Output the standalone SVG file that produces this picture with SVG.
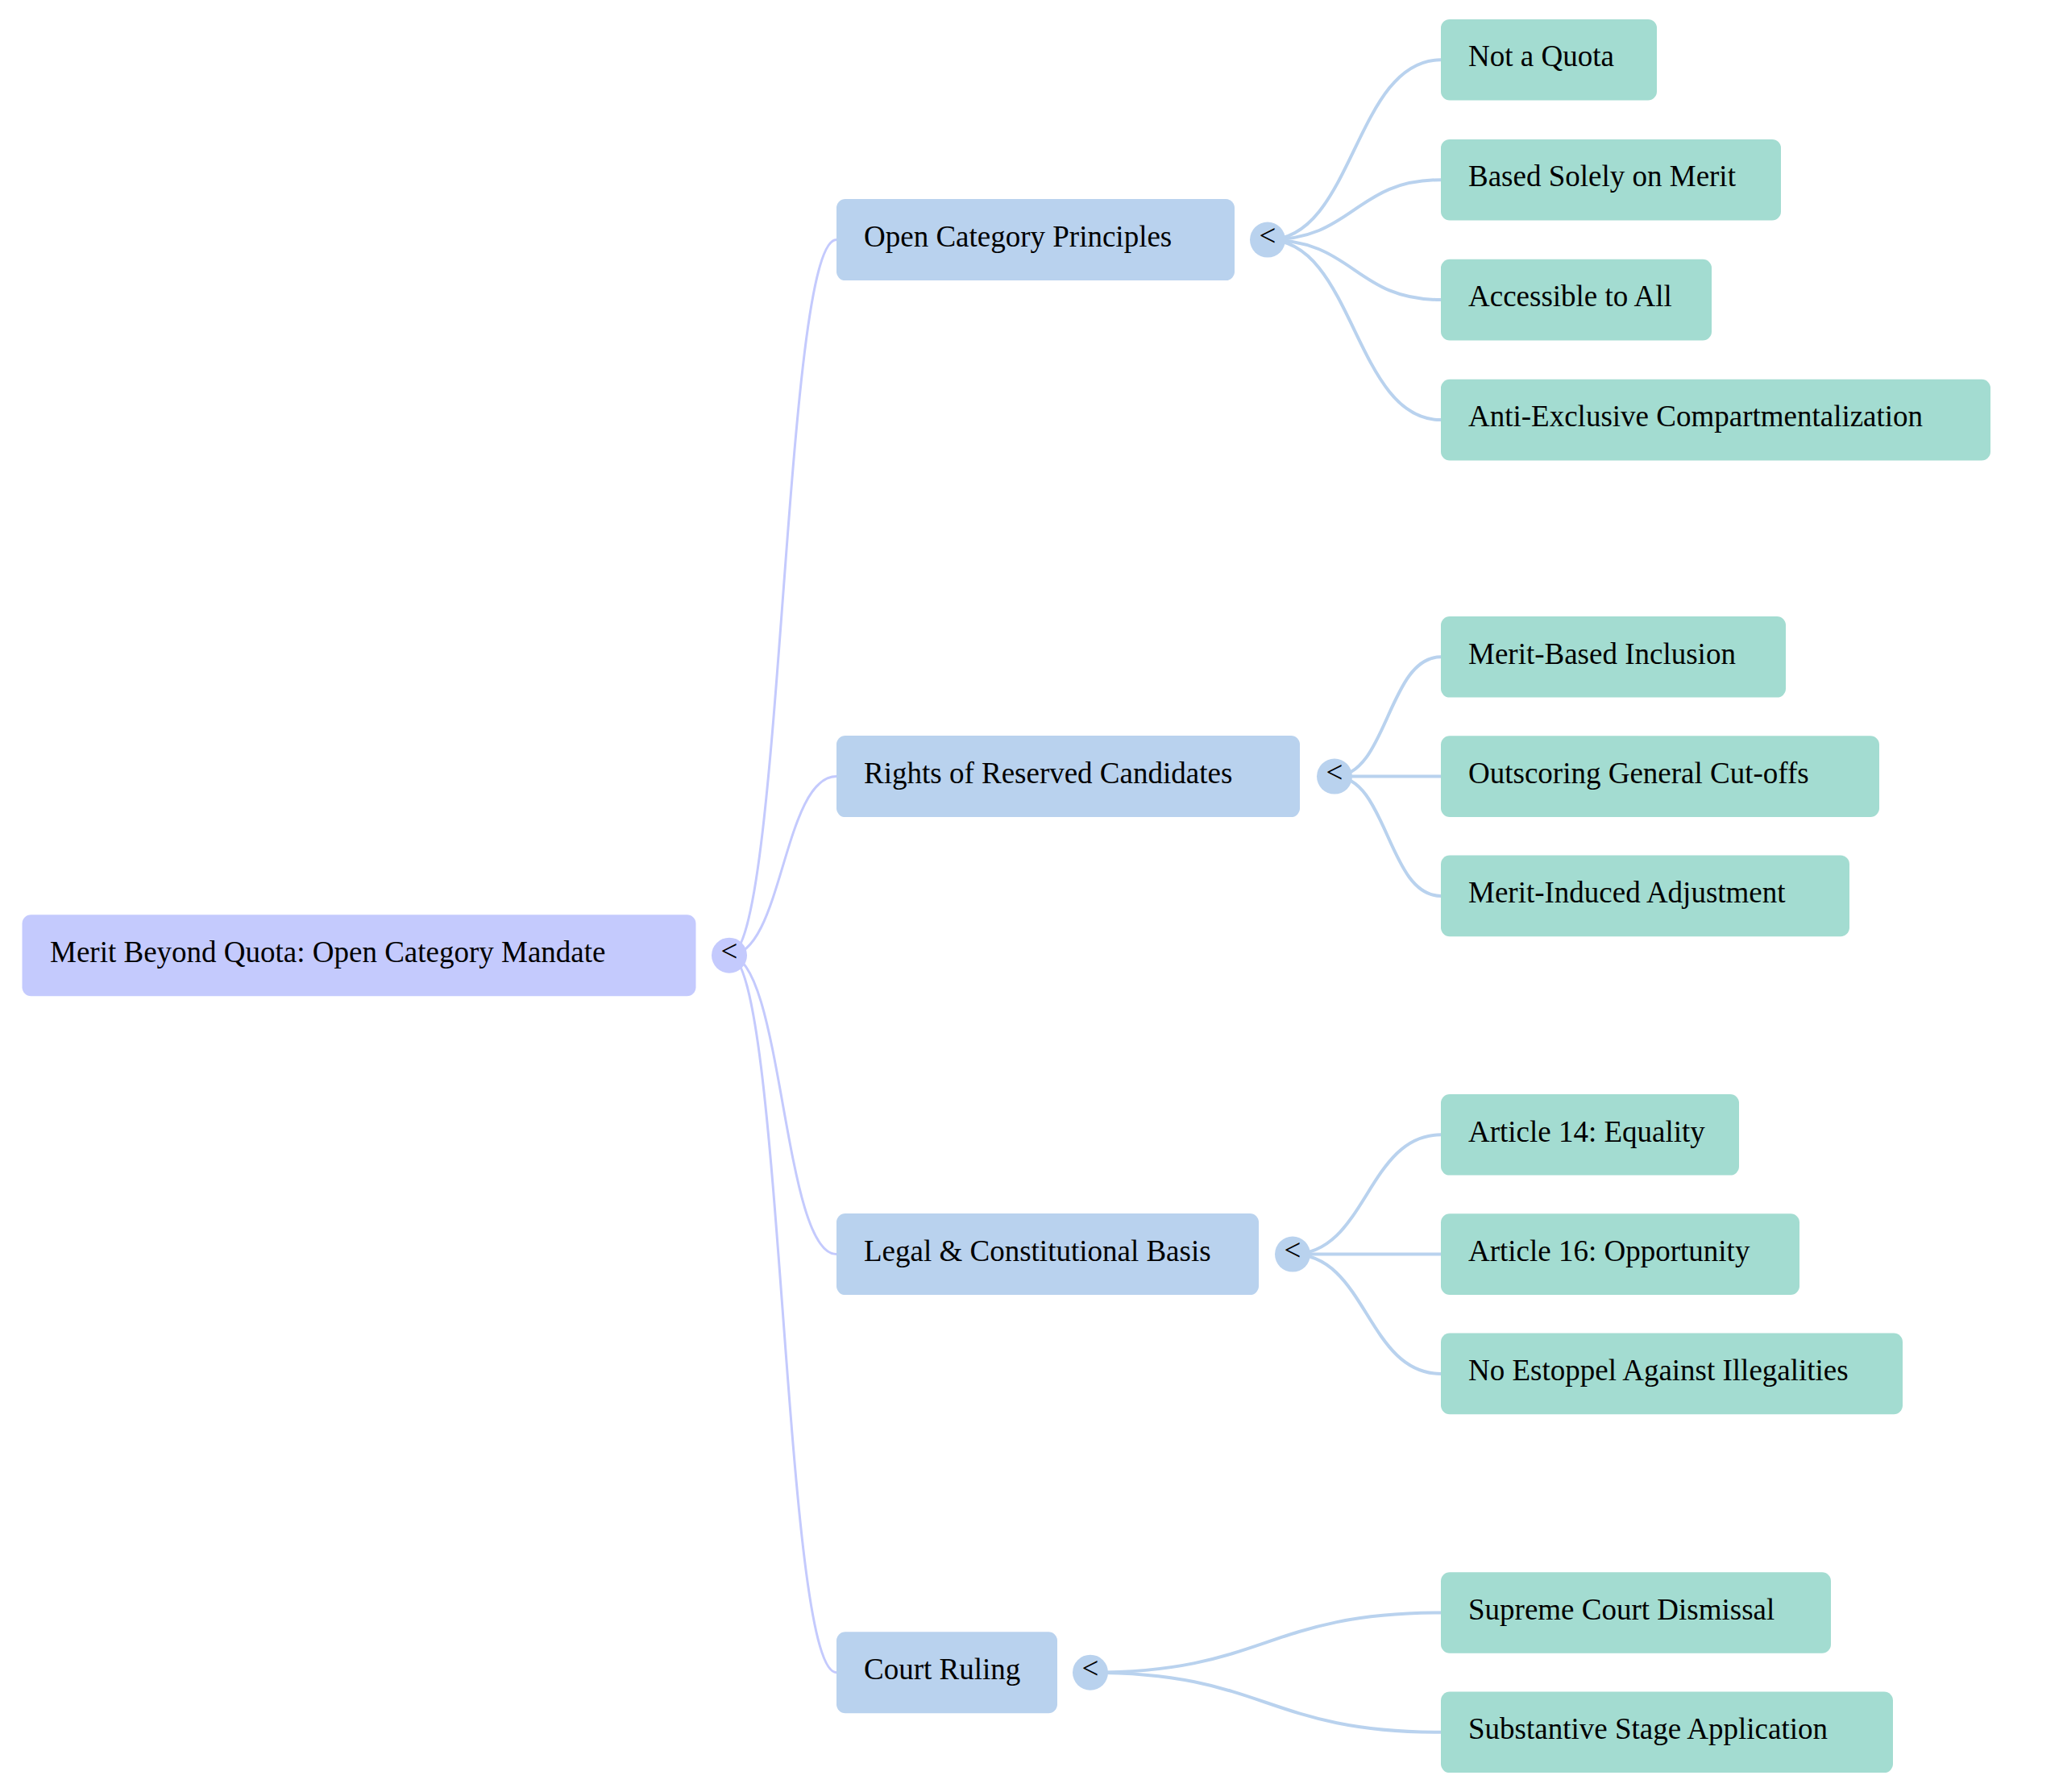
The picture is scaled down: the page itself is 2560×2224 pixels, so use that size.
<svg xmlns="http://www.w3.org/2000/svg" width="2560" height="2224" viewBox="0 0 2560 2224">
<style>
text{font-family:"Liberation Serif","Times New Roman",serif;font-size:37px;fill:#000}
.r0{fill:#C4CAFD}
.r1{fill:#B9D2EE}
.r2{fill:#A3DCD1}
.e0{fill:none;stroke:#C4CAFD;stroke-width:3}
.e1{fill:none;stroke:#B9D2EE;stroke-width:4}
.tog{text-anchor:middle}
</style>
<rect width="2560" height="2224" fill="#FFFFFF"/>
<g id="connectors">
<path class="e0" d="M905,1185.7 C971.5,1185.7 971.5,297.6 1038,297.6"/>
<path class="e0" d="M905,1185.7 C971.5,1185.7 971.5,963.6 1038,963.6"/>
<path class="e0" d="M905,1185.7 C971.5,1185.7 971.5,1556.6 1038,1556.6"/>
<path class="e0" d="M905,1185.7 C971.5,1185.7 971.5,2075.7 1038,2075.7"/>
<path class="e1" d="M1573,297.6 C1680.5,297.6 1680.5,74.2 1788,74.2"/>
<path class="e1" d="M1573,297.6 C1680.5,297.6 1680.5,223.2 1788,223.2"/>
<path class="e1" d="M1573,297.6 C1680.5,297.6 1680.5,372.1 1788,372.1"/>
<path class="e1" d="M1573,297.6 C1680.5,297.6 1680.5,521.1 1788,521.1"/>
<path class="e1" d="M1656,963.6 C1722,963.6 1722,815.3 1788,815.3"/>
<path class="e1" d="M1656,963.6 C1722,963.6 1722,963.6 1788,963.6"/>
<path class="e1" d="M1656,963.6 C1722,963.6 1722,1111.9 1788,1111.9"/>
<path class="e1" d="M1604,1556.6 C1696,1556.6 1696,1408.3 1788,1408.3"/>
<path class="e1" d="M1604,1556.6 C1696,1556.6 1696,1556.6 1788,1556.6"/>
<path class="e1" d="M1604,1556.6 C1696,1556.6 1696,1704.9 1788,1704.9"/>
<path class="e1" d="M1353,2075.7 C1570.5,2075.7 1570.5,2001.5 1788,2001.5"/>
<path class="e1" d="M1353,2075.7 C1570.5,2075.7 1570.5,2149.8 1788,2149.8"/>
</g>
<g id="root">
<rect class="r0" x="27.5" y="1135.2" width="836" height="101" rx="11"/>
<text x="62" y="1194">Merit Beyond Quota: Open Category Mandate</text>
<circle class="r0" cx="905" cy="1185.7" r="22"/>
<text class="tog" x="905" y="1192.7">&lt;</text>
</g>
<g id="n-open">
<rect class="r1" x="1038" y="247.1" width="494" height="101" rx="11"/>
<text x="1072" y="305.8">Open Category Principles</text>
<circle class="r1" cx="1573" cy="297.6" r="22"/>
<text class="tog" x="1573" y="304.6">&lt;</text>
</g>
<g id="n-rights">
<rect class="r1" x="1038" y="913.1" width="575" height="101" rx="11"/>
<text x="1072" y="971.8">Rights of Reserved Candidates</text>
<circle class="r1" cx="1656" cy="963.6" r="22"/>
<text class="tog" x="1656" y="970.6">&lt;</text>
</g>
<g id="n-legal">
<rect class="r1" x="1038" y="1506.1" width="524" height="101" rx="11"/>
<text x="1072" y="1564.8">Legal &amp; Constitutional Basis</text>
<circle class="r1" cx="1604" cy="1556.6" r="22"/>
<text class="tog" x="1604" y="1563.6">&lt;</text>
</g>
<g id="n-court">
<rect class="r1" x="1038" y="2025.2" width="274" height="101" rx="11"/>
<text x="1072" y="2083.9">Court Ruling</text>
<circle class="r1" cx="1353" cy="2075.7" r="22"/>
<text class="tog" x="1353" y="2082.7">&lt;</text>
</g>
<g id="n-quota">
<rect class="r2" x="1788" y="23.9" width="268" height="100.6" rx="11"/>
<text x="1822" y="82.4">Not a Quota</text>
</g>
<g id="n-merit">
<rect class="r2" x="1788" y="172.9" width="422" height="100.6" rx="11"/>
<text x="1822" y="231.4">Based Solely on Merit</text>
</g>
<g id="n-access">
<rect class="r2" x="1788" y="321.8" width="336" height="100.6" rx="11"/>
<text x="1822" y="380.3">Accessible to All</text>
</g>
<g id="n-anti">
<rect class="r2" x="1788" y="470.8" width="682" height="100.6" rx="11"/>
<text x="1822" y="529.3">Anti-Exclusive Compartmentalization</text>
</g>
<g id="n-inclusion">
<rect class="r2" x="1788" y="765" width="428" height="100.6" rx="11"/>
<text x="1822" y="823.5">Merit-Based Inclusion</text>
</g>
<g id="n-outscoring">
<rect class="r2" x="1788" y="913.3" width="544" height="100.6" rx="11"/>
<text x="1822" y="971.8">Outscoring General Cut-offs</text>
</g>
<g id="n-adjust">
<rect class="r2" x="1788" y="1061.6" width="507" height="100.6" rx="11"/>
<text x="1822" y="1120.1">Merit-Induced Adjustment</text>
</g>
<g id="n-art14">
<rect class="r2" x="1788" y="1358" width="370" height="100.6" rx="11"/>
<text x="1822" y="1416.5">Article 14: Equality</text>
</g>
<g id="n-art16">
<rect class="r2" x="1788" y="1506.3" width="445" height="100.6" rx="11"/>
<text x="1822" y="1564.8">Article 16: Opportunity</text>
</g>
<g id="n-estoppel">
<rect class="r2" x="1788" y="1654.6" width="573" height="100.6" rx="11"/>
<text x="1822" y="1713.1">No Estoppel Against Illegalities</text>
</g>
<g id="n-dismissal">
<rect class="r2" x="1788" y="1951.2" width="484" height="100.6" rx="11"/>
<text x="1822" y="2009.7">Supreme Court Dismissal</text>
</g>
<g id="n-substantive">
<rect class="r2" x="1788" y="2099.5" width="561" height="100.6" rx="11"/>
<text x="1822" y="2158">Substantive Stage Application</text>
</g>
</svg>
